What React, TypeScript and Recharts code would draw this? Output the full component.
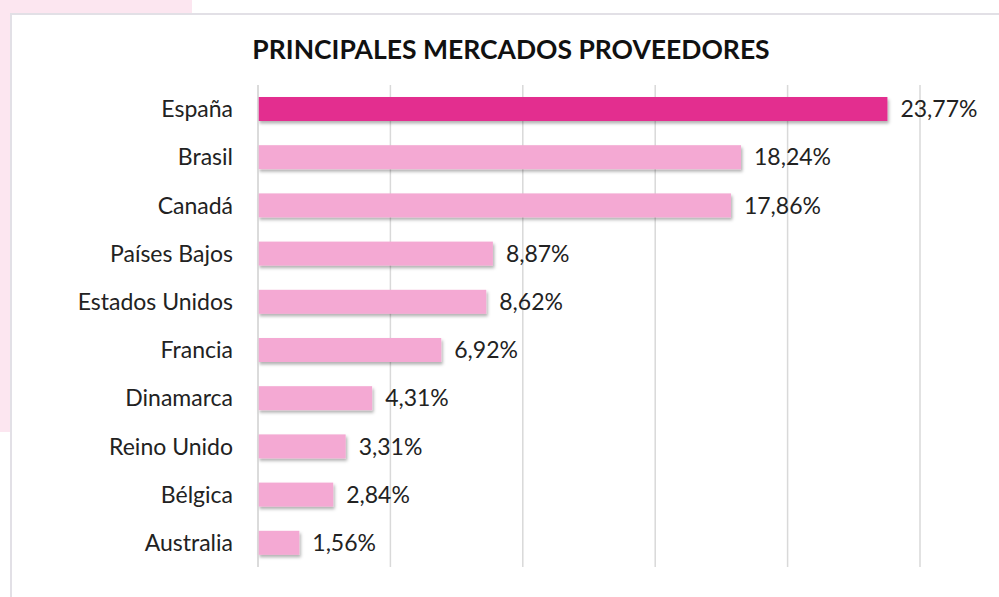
import React from 'react';
import { BarChart, Bar, XAxis, YAxis, CartesianGrid, LabelList, Cell } from 'recharts';

const categories = ['España', 'Brasil', 'Canadá', 'Países Bajos', 'Estados Unidos', 'Francia', 'Dinamarca', 'Reino Unido', 'Bélgica', 'Australia'];
const shares = [23.77, 18.24, 17.86, 8.87, 8.62, 6.92, 4.31, 3.31, 2.84, 1.56];
const xTicks = [0, 5, 10, 15, 20, 25];

const data = categories.map((c, i) => ({ name: c, value: shares[i] }));

const FONT = 'Lato, "Open Sans", sans-serif';

const fmt = (v: any) => Number(v).toFixed(2).replace('.', ',') + '%';

const ShadowBar = (props: any) => {
  const { x, y, width, height, fill } = props;
  return <rect x={x} y={y} width={width} height={height} fill={fill} filter="url(#barShadow)" />;
};

export default function App() {
  return (
    <div style={{ position: 'absolute', left: 0, top: 0, width: 999, height: 597, background: '#fff', overflow: 'hidden', fontFamily: FONT }}>
      <div style={{ position: 'absolute', left: 0, top: 0, width: 192, height: 432, background: '#fce6f0' }} />
      <div style={{ position: 'absolute', left: 10, top: 13, width: 1100, height: 700, background: '#fff', border: '2px solid #e2e0e6', boxSizing: 'border-box' }} />
      <div style={{ position: 'absolute', left: 0, top: 29, width: 1022, textAlign: 'center', fontSize: 26.5, fontWeight: 700, color: '#111', fontFamily: FONT, lineHeight: '40px' }}>
        PRINCIPALES MERCADOS PROVEEDORES
      </div>
      <div style={{ position: 'absolute', left: 0, top: 0 }}>
        <BarChart width={999} height={597} data={data} layout="vertical" margin={{ top: 85, right: 79, bottom: 30, left: 0 }}>
          <defs>
            <filter id="barShadow" x="-10%" y="-30%" width="130%" height="180%">
              <feDropShadow dx="1.5" dy="2.5" stdDeviation="1.5" floodColor="#000" floodOpacity="0.3" />
            </filter>
          </defs>
          <CartesianGrid horizontal={false} stroke="#d9d9d9" strokeWidth={1.5} />
          <XAxis type="number" domain={[0, 25]} ticks={xTicks} hide />
          <YAxis
            type="category"
            dataKey="name"
            width={258}
            tickLine={false}
            tickSize={0}
            tickMargin={25}
            axisLine={{ stroke: '#d9d9d9', strokeWidth: 1.5 }}
            tick={{ fontSize: 23, fill: '#222', fontFamily: FONT }}
            interval={0}
          />
          <Bar dataKey="value" barSize={24} isAnimationActive={false} shape={<ShadowBar />}>
            {data.map((d, i) => (
              <Cell key={d.name} fill={i === 0 ? '#e32d8f' : '#f4a9d3'} />
            ))}
            <LabelList dataKey="value" position="right" offset={13} formatter={fmt} style={{ fontSize: 23, fill: '#222', fontFamily: FONT }} />
          </Bar>
        </BarChart>
      </div>
    </div>
  );
}
